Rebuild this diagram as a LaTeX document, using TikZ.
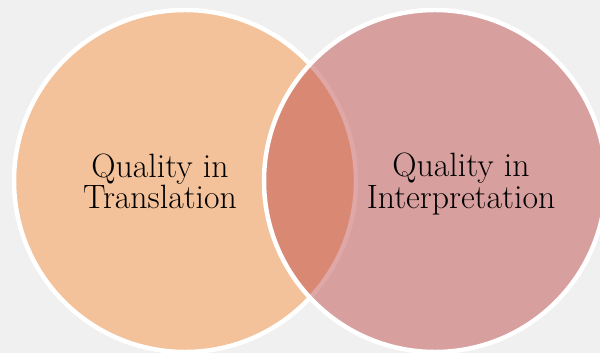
\documentclass[tikz,border=0pt]{standalone}
\usepackage{fontspec}
\definecolor{bgGray}{HTML}{F0F0F0}
\definecolor{transOrange}{HTML}{F79646}
\definecolor{interpRed}{HTML}{C0504D}
\begin{document}
\begin{tikzpicture}[x=0.2mm,y=-0.2mm,line join=round,line cap=round]
	\tikzset{every node/.style={font=\fontsize{19.2}{17.8}\selectfont,align=center,text=black},
		venn/.style={fill opacity=0.5,draw=white,line width=2.55pt}}
	\fill[bgGray] (0,0) rectangle (600,353);
	\useasboundingbox (0,0) rectangle (600,353);
	\begin{scope}
		\clip (0,0) rectangle (600,353);
		\filldraw[venn,fill=transOrange] (185,181) circle (171);
		\filldraw[venn,fill=interpRed] (435,181) circle (171);
	\end{scope}
	\node (trans) at (160,181) {Quality in\\Translation};
	\node (interp) at (461,184) {Quality in\\Interpretation};
\end{tikzpicture}
\end{document}
